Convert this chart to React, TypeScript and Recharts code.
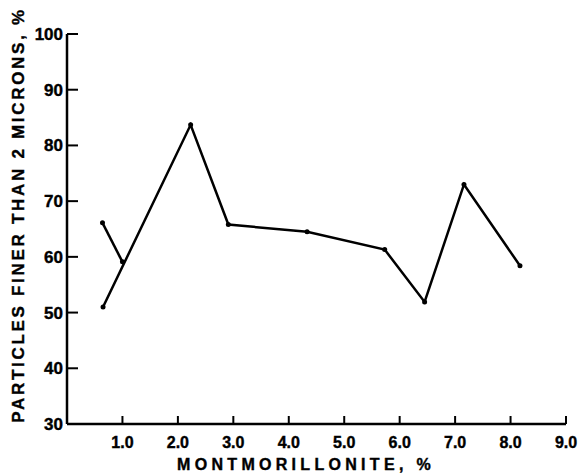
import { LineChart, Line, XAxis, YAxis } from "recharts";

// montmorillonite % vs particles finer than 2 microns %
const mainX = [0.65, 2.23, 2.91, 4.33, 5.73, 6.45, 7.16, 8.17];
const mainY = [51, 83.7, 65.8, 64.5, 61.3, 51.9, 73, 58.4];
const branchX = [0.64, 1.0];
const branchY = [66.1, 59.1];

const xTicks = [1, 2, 3, 4, 5, 6, 7, 8, 9];
const yTicks = [30, 40, 50, 60, 70, 80, 90, 100];

const mainData = mainX.map((x, i) => ({ x, y: mainY[i] }));
const branchData = branchX.map((x, i) => ({ x, y: branchY[i] }));

const FONT = "'Liberation Sans', Arial, sans-serif";

const XTick = (p: any) => (
  <g>
    <line x1={p.x} x2={p.x} y1={p.y} y2={p.y - 8} stroke="#000" strokeWidth={2} />
    <text
      x={p.x}
      y={p.y + 24}
      textAnchor="middle"
      fontFamily={FONT}
      fontWeight="bold"
      fontSize={16}
      stroke="#000"
      strokeWidth={0.4}
      fill="#000"
    >
      {p.payload.value.toFixed(1)}
    </text>
  </g>
);

const YTick = (p: any) => (
  <g>
    <line x1={p.x} x2={p.x + 11} y1={p.y} y2={p.y} stroke="#000" strokeWidth={2} />
    <text
      x={p.x - 4}
      y={p.y + 6}
      textAnchor="end"
      fontFamily={FONT}
      fontWeight="bold"
      fontSize={17}
      stroke="#000"
      strokeWidth={0.4}
      fill="#000"
    >
      {p.payload.value}
    </text>
  </g>
);

export default function App() {
  return (
    <div style={{ position: "absolute", left: 0, top: 0, background: "#fff" }}>
      <LineChart
        width={586}
        height={476}
        margin={{ top: 34, right: 20, bottom: 0, left: 0 }}
      >
        <XAxis
          type="number"
          dataKey="x"
          domain={[0, 9]}
          ticks={xTicks}
          interval={0}
          height={52}
          tickSize={0}
          tickMargin={0}
          tickLine={false}
          tick={XTick}
          axisLine={{ stroke: "#000", strokeWidth: 2.5 }}
          allowDataOverflow
          label={{
            content: () => (
              <text
                x={306}
                y={470}
                textAnchor="middle"
                fontFamily={FONT}
                fontWeight="bold"
                fontSize={16}
                letterSpacing={4.3}
                stroke="#000"
                strokeWidth={0.4}
                fill="#000"
              >
                MONTMORILLONITE, %
              </text>
            ),
          }}
        />
        <YAxis
          type="number"
          dataKey="y"
          domain={[30, 100]}
          ticks={yTicks}
          interval={0}
          width={67}
          tickSize={0}
          tickMargin={0}
          tickLine={false}
          tick={YTick}
          axisLine={{ stroke: "#000", strokeWidth: 2.5 }}
          allowDataOverflow
          label={{
            content: () => (
              <text
                x={24}
                y={215}
                transform="rotate(-90 24 215)"
                textAnchor="middle"
                fontFamily={FONT}
                fontWeight="bold"
                fontSize={17}
                letterSpacing={2.7}
                stroke="#000"
                strokeWidth={0.4}
                fill="#000"
              >
                PARTICLES FINER THAN 2 MICRONS, %
              </text>
            ),
          }}
        />
        <Line
          data={mainData}
          dataKey="y"
          type="linear"
          stroke="#000"
          strokeWidth={2.5}
          dot={{ r: 2.5, fill: "#000", stroke: "#000", strokeWidth: 0 }}
          isAnimationActive={false}
        />
        <Line
          data={branchData}
          dataKey="y"
          type="linear"
          stroke="#000"
          strokeWidth={2.5}
          dot={{ r: 2.5, fill: "#000", stroke: "#000", strokeWidth: 0 }}
          isAnimationActive={false}
        />
      </LineChart>
    </div>
  );
}
